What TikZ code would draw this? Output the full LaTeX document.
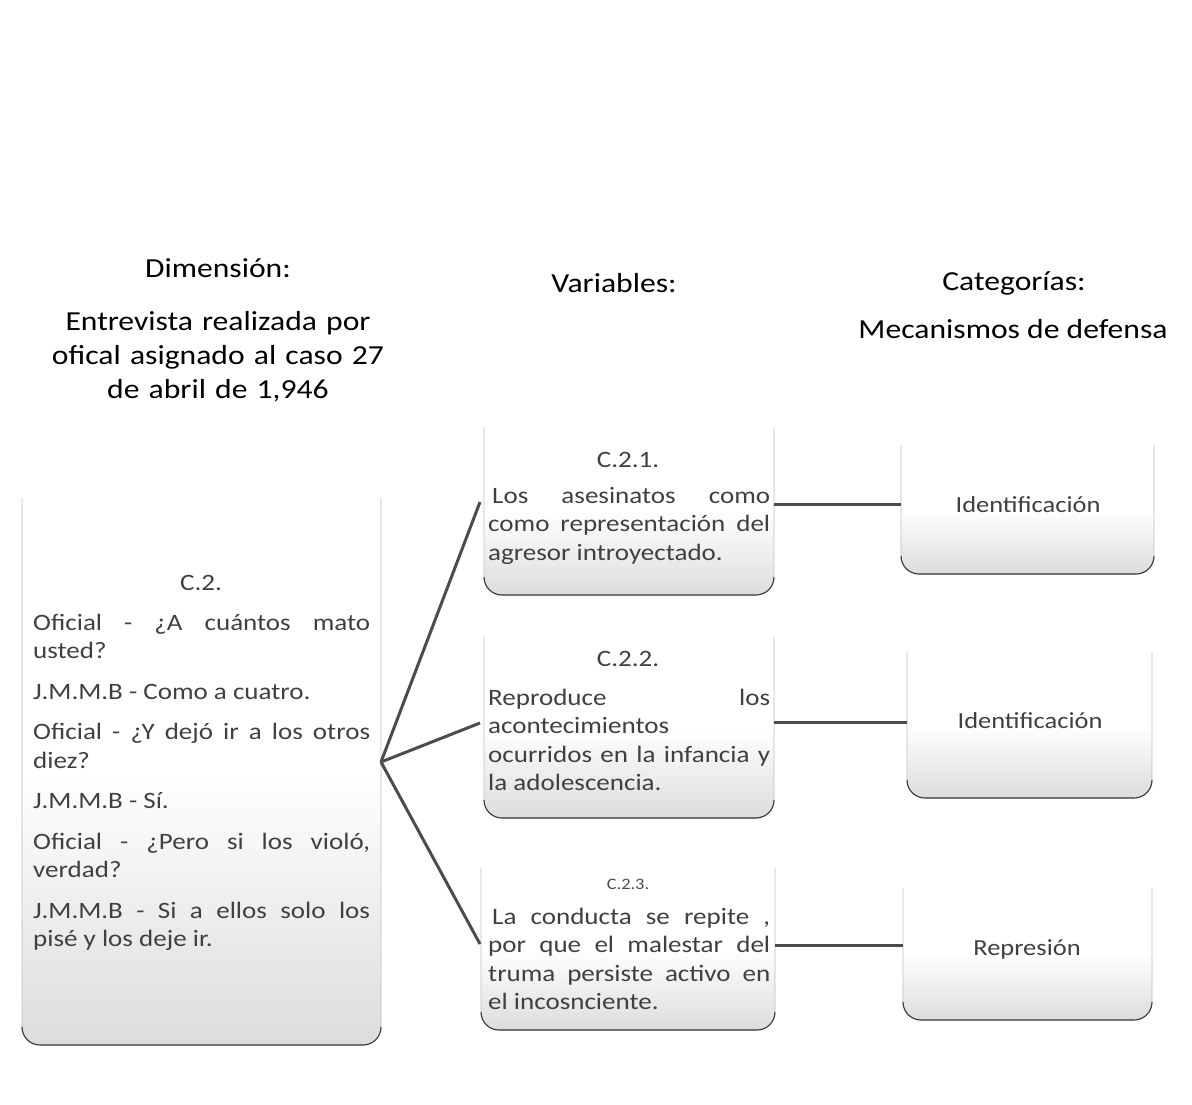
\documentclass[tikz,border=0pt]{standalone}
\usepackage{fontspec}
\setmainfont{Carlito}[FakeStretch=1.15]
\begin{document}
\begin{tikzpicture}[x=1pt,y=-1pt,
  boxfill/.style={rounded corners=18pt, top color=white, bottom color=gray!27, middle color=white, inner sep=0pt, outer sep=0pt},
  boxedge/.style={draw=gray!50, line width=0.8pt, rounded corners=18pt},
  boxbottom/.style={draw=gray!45!black, line width=1.1pt, rounded corners=18pt},
  conn/.style={draw=black!70, line width=3pt},
  head/.style={font=\fontsize{27.5}{34}\selectfont, text=black, inner sep=0pt, align=center},
  body/.style={font=\fontsize{23.5}{28.5}\selectfont, text=black!75, inner sep=0pt, align=justify},
  small/.style={font=\fontsize{16}{20}\selectfont, text=black!70, inner sep=0pt},
  cat/.style={font=\fontsize{23}{28}\selectfont, text=black!75, inner sep=0pt}
]
\useasboundingbox (0,0) rectangle (1192,1104);
\fill[white] (0,0) rectangle (1192,1104);

% boxes
\node[boxfill, minimum width=359pt, minimum height=547pt] (c2) at (201.5,771.5) {};
\node[boxfill, minimum width=290pt, minimum height=168pt] (m1) at (629,511) {};
\node[boxfill, minimum width=290pt, minimum height=181pt] (m2) at (629,727.5) {};
\node[boxfill, minimum width=294pt, minimum height=162pt] (m3) at (628,949) {};
\node[boxfill, minimum width=253pt, minimum height=129pt] (r1) at (1027.5,509.5) {};
\node[boxfill, minimum width=245pt, minimum height=146pt] (r2) at (1029.5,725) {};
\node[boxfill, minimum width=249pt, minimum height=132pt] (r3) at (1027.5,954) {};

\foreach \b in {c2,m1,m2,m3,r1,r2,r3}{
  \draw[boxedge] (\b.north west) -- (\b.south west) -- (\b.south east) -- (\b.north east);
  \draw[boxbottom] ([yshift=18pt]\b.south west) -- (\b.south west) -- (\b.south east) -- ([yshift=18pt]\b.south east);
}

% headings
\node[head, anchor=base] (hdim) at (218,277) {Dimensión:};
\node[head, anchor=base, text width=380pt] (hent) at (218,330) {Entrevista realizada por\\ofical asignado al caso 27\\de abril de 1,946};
\node[head, anchor=base] (hvar) at (614,292) {Variables:};
\node[head, anchor=base] (hcat) at (1014,290) {Categorías:};
\node[head, anchor=base] (hmec) at (1013,338) {Mecanismos de defensa};

% left box text
\node[body, anchor=base] (c2t) at (201,590) {C.2.};
\node[body, anchor=base west, text width=337pt] (c2b) at (33,630) {\setlength{\parskip}{12pt}%
Oficial - ¿A cuántos mato\linebreak usted?\par
J.M.M.B - Como a cuatro.\par
Oficial - ¿Y dejó ir a los otros\linebreak diez?\par
J.M.M.B - Sí.\par
Oficial - ¿Pero si los violó,\linebreak verdad?\par
J.M.M.B - Si a ellos solo los\linebreak pisé y los deje ir.};

% middle texts
\node[body, anchor=base] (m1t) at (628,467) {C.2.1.};
\node[body, anchor=base west, text width=282pt] (m1b) at (488,503) {\hspace{4pt}Los asesinatos como\linebreak como representación del\linebreak agresor introyectado.};
\node[body, anchor=base] (m2t) at (628,666) {C.2.2.};
\node[body, anchor=base west, text width=282pt] (m2b) at (488,705) {Reproduce los\linebreak acontecimientos\linebreak ocurridos en la infancia y\linebreak la adolescencia.};
\node[small, anchor=base] (m3t) at (628,889) {C.2.3.};
\node[body, anchor=base west, text width=282pt] (m3b) at (488,924) {\hspace{4pt}La conducta se repite ,\linebreak por que el malestar del\linebreak truma persiste activo en\linebreak el incosnciente.};

% categories
\node[cat, anchor=base] (r1t) at (1028,512) {Identificación};
\node[cat, anchor=base] (r2t) at (1030,728) {Identificación};
\node[cat, anchor=base] (r3t) at (1027,955) {Represión};

% connectors
\coordinate (hub) at (381,762);
\draw[conn] (hub) -- ([xshift=-4pt,yshift=9pt]m1.west);
\draw[conn] (hub) -- ([xshift=-4pt,yshift=4.5pt]m2.west);
\draw[conn] (hub) -- ([xshift=-1pt,yshift=5pt]m3.west);
\draw[conn] ([yshift=7pt]m1.east) -- ([yshift=7pt]m1.east -| r1.west);
\draw[conn] ([yshift=5.5pt]m2.east) -- ([yshift=5.5pt]m2.east -| r2.west);
\draw[conn] ([yshift=4pt]m3.east) -- ([yshift=4pt]m3.east -| r3.west);
\end{tikzpicture}
\end{document}
